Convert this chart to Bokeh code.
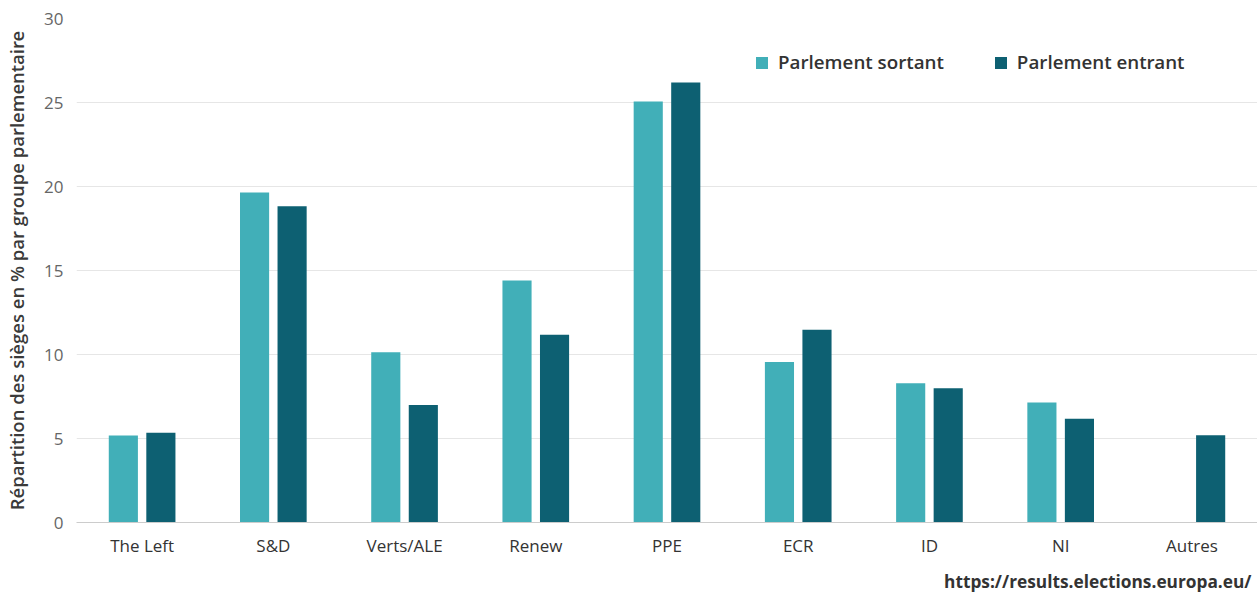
from bokeh.plotting import figure
from bokeh.models import ColumnDataSource, FactorRange, Legend, LegendItem, Title
from bokeh.transform import dodge
from bokeh.embed import file_html
from bokeh.resources import INLINE

categories = ["The Left", "S&D", "Verts/ALE", "Renew", "PPE", "ECR", "ID", "NI", "Autres"]
sortant = [5.18, 19.64, 10.14, 14.40, 25.06, 9.56, 8.29, 7.14, 0.0]
entrant = [5.34, 18.83, 7.00, 11.17, 26.19, 11.47, 7.99, 6.17, 5.20]
series_names = ["Parlement sortant", "Parlement entrant"]
colors = ["#41afb8", "#0d6072"]
y_ticks = [0, 5, 10, 15, 20, 25, 30]

FONT = "Open Sans"
SEMI = "Open Sans SemiBold"

src = ColumnDataSource(dict(cat=categories, sortant=sortant, entrant=entrant))

p = figure(x_range=FactorRange(*categories, range_padding=0), y_range=(0, 30),
           width=1257, height=594, output_backend="svg", toolbar_location=None,
           min_border_left=76, min_border_right=0, min_border_top=18, min_border_bottom=72,
           frame_width=1181, frame_height=504)
p.outline_line_color = None
p.background_fill_color = "white"
p.border_fill_color = "white"

r1 = p.vbar(x=dodge("cat", -0.143, range=p.x_range), top="sortant", width=0.222,
            source=src, fill_color=colors[0], line_color=None)
r2 = p.vbar(x=dodge("cat", 0.143, range=p.x_range), top="entrant", width=0.222,
            source=src, fill_color=colors[1], line_color=None)

# axes
p.yaxis.ticker = y_ticks
p.yaxis.axis_line_color = None
p.yaxis.major_tick_line_color = None
p.yaxis.minor_tick_line_color = None
p.yaxis.major_tick_out = 0
p.yaxis.major_tick_in = 0
p.yaxis.minor_tick_out = 0
p.yaxis.major_label_text_font = FONT
p.yaxis.major_label_text_font_size = "17px"
p.yaxis.major_label_text_color = "#666666"
p.yaxis.major_label_standoff = 13
p.yaxis.axis_label = "Répartition des sièges en % par groupe parlementaire"
p.yaxis.axis_label_text_font = SEMI
p.yaxis.axis_label_text_font_size = "18.5px"
p.yaxis.axis_label_text_font_style = "normal"
p.yaxis.axis_label_text_color = "#3a3a3a"
p.yaxis.axis_label_standoff = 12

p.xaxis.axis_line_color = "#cccccc"
p.xaxis.major_tick_line_color = None
p.xaxis.minor_tick_line_color = None
p.xaxis.major_tick_out = 0
p.xaxis.major_tick_in = 0
p.xaxis.major_label_text_font = FONT
p.xaxis.major_label_text_font_size = "17px"
p.xaxis.major_label_text_color = "#333333"
p.xaxis.major_label_standoff = 11

p.xgrid.grid_line_color = None
p.ygrid.grid_line_color = "#e6e6e6"
p.ygrid.grid_line_width = 1

legend = Legend(items=[LegendItem(label=series_names[0], renderers=[r1]),
                       LegendItem(label=series_names[1], renderers=[r2])],
                orientation="horizontal", location=(678, 447),
                border_line_color=None, background_fill_alpha=0,
                padding=0, margin=0, glyph_width=15, glyph_height=15,
                label_standoff=9, spacing=49,
                label_text_font=SEMI, label_text_font_size="18.8px",
                label_text_font_style="normal",
                label_text_color="#333333")
p.add_layout(legend, "center")

url = Title(text="https://results.elections.europa.eu/", align="right", offset=6,
            text_font=FONT, text_font_size="17.3px", text_font_style="bold",
            text_color="#333333", standoff=16, vertical_align="bottom")
p.add_layout(url, "below")

open("out.html", "w").write(file_html(p, INLINE))
